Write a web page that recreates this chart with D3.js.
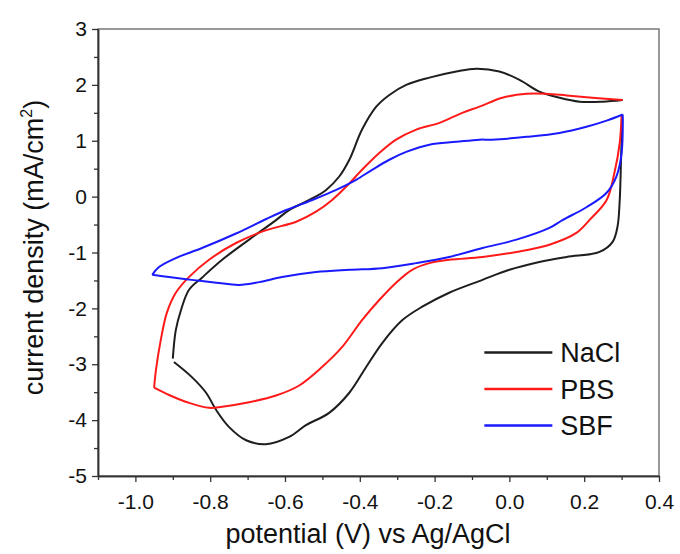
<!DOCTYPE html>
<html>
<head>
<meta charset="utf-8">
<script src="https://cdn.jsdelivr.net/npm/d3@7"></script>
<style>
  body { margin: 0; background: #fff; }
  text { font-family: Arial, "Liberation Sans", sans-serif; fill: #111; }
</style>
</head>
<body>
<div id="chart"></div>
<script>
// Data: [potential (V), current density (mA/cm2)]
const naclCathodic = [[0.302,1.40],[0.299,0.80],[0.297,0.30],[0.295,-0.06],[0.289,-0.54],[0.276,-0.81],[0.241,-0.99],[0.153,-1.08],[0.080,-1.17],[0.000,-1.31],[-0.072,-1.49],[-0.161,-1.72],[-0.233,-1.97],[-0.286,-2.21],[-0.340,-2.62],[-0.383,-3.05],[-0.428,-3.51],[-0.482,-3.87],[-0.544,-4.09],[-0.589,-4.30],[-0.651,-4.43],[-0.704,-4.36],[-0.750,-4.12],[-0.784,-3.82],[-0.811,-3.51],[-0.849,-3.23],[-0.897,-2.96]];
const naclAnodic = [[-0.900,-2.90],[-0.892,-2.39],[-0.878,-2.03],[-0.857,-1.67],[-0.822,-1.45],[-0.768,-1.13],[-0.696,-0.77],[-0.624,-0.42],[-0.589,-0.24],[-0.535,-0.06],[-0.490,0.12],[-0.455,0.36],[-0.428,0.66],[-0.394,1.20],[-0.356,1.61],[-0.321,1.82],[-0.276,2.00],[-0.214,2.13],[-0.142,2.24],[-0.088,2.29],[-0.027,2.24],[0.027,2.09],[0.080,1.88],[0.134,1.77],[0.187,1.70],[0.249,1.70],[0.303,1.73]];
const pbsAnodic = [[-0.950,-3.42],[-0.945,-3.10],[-0.932,-2.56],[-0.916,-2.08],[-0.892,-1.72],[-0.857,-1.44],[-0.803,-1.13],[-0.731,-0.83],[-0.650,-0.60],[-0.570,-0.45],[-0.517,-0.27],[-0.474,-0.06],[-0.436,0.18],[-0.394,0.48],[-0.348,0.78],[-0.303,1.02],[-0.249,1.20],[-0.187,1.32],[-0.126,1.50],[-0.080,1.61],[-0.019,1.77],[0.046,1.84],[0.099,1.84],[0.153,1.81],[0.222,1.77],[0.303,1.73]];
const pbsCathodic = [[0.300,1.47],[0.295,0.96],[0.281,0.43],[0.260,-0.06],[0.214,-0.42],[0.179,-0.65],[0.107,-0.86],[0.019,-0.99],[-0.072,-1.08],[-0.161,-1.13],[-0.214,-1.19],[-0.260,-1.31],[-0.303,-1.54],[-0.348,-1.85],[-0.394,-2.21],[-0.447,-2.69],[-0.501,-3.05],[-0.562,-3.38],[-0.624,-3.56],[-0.696,-3.68],[-0.768,-3.76],[-0.803,-3.78],[-0.857,-3.69],[-0.910,-3.55],[-0.950,-3.42]];
const sbfAnodic = [[-0.955,-1.40],[-0.937,-1.26],[-0.892,-1.10],[-0.822,-0.92],[-0.731,-0.66],[-0.650,-0.40],[-0.597,-0.24],[-0.527,-0.06],[-0.463,0.12],[-0.410,0.30],[-0.367,0.48],[-0.321,0.66],[-0.276,0.80],[-0.214,0.93],[-0.142,0.98],[-0.080,1.02],[-0.046,1.02],[0.046,1.07],[0.134,1.14],[0.206,1.25],[0.260,1.36],[0.303,1.47]];
const sbfCathodic = [[0.303,1.47],[0.300,0.78],[0.286,0.36],[0.260,0.07],[0.206,-0.19],[0.142,-0.42],[0.107,-0.56],[0.019,-0.77],[-0.072,-0.92],[-0.161,-1.08],[-0.249,-1.19],[-0.340,-1.28],[-0.428,-1.31],[-0.517,-1.35],[-0.608,-1.44],[-0.669,-1.53],[-0.723,-1.58],[-0.784,-1.54],[-0.849,-1.49],[-0.910,-1.44],[-0.955,-1.40]];

const seriesNames = ["NaCl", "PBS", "SBF"];
const seriesColors = ["#1e1e1e", "#ff1a1a", "#1a1aff"];
const xTicks = [-1.0, -0.8, -0.6, -0.4, -0.2, 0.0, 0.2, 0.4];
const xMinorTicks = [-1.1, -0.9, -0.7, -0.5, -0.3, -0.1, 0.1, 0.3];
const yTicks = [-5, -4, -3, -2, -1, 0, 1, 2, 3];
const yMinorTicks = [-4.5, -3.5, -2.5, -1.5, -0.5, 0.5, 1.5, 2.5];

// Chart dimensions
const margin = { top: 29, right: 21, bottom: 78, left: 98 };
const width = 680 - margin.left - margin.right;
const height = 554 - margin.top - margin.bottom;

const x = d3.scaleLinear().domain([-1.1, 0.4]).range([0, width]);
const y = d3.scaleLinear().domain([-5, 3]).range([height, 0]);

const svg = d3.select("#chart").append("svg")
    .attr("width", 680)
    .attr("height", 554)
  .append("g")
    .attr("transform", `translate(${margin.left},${margin.top})`);

// Frame (top and right sides are lighter)
svg.append("rect")
    .attr("width", width)
    .attr("height", height)
    .attr("fill", "none")
    .attr("stroke", "#777")
    .attr("stroke-width", 1.5);

const fmt = d => d3.format(".1f")(d).replace("\u2212", "-");

// Axes
svg.append("g")
    .attr("transform", `translate(0,${height})`)
    .call(d3.axisBottom(x).tickValues(xTicks).tickFormat(fmt)
        .tickSize(6).tickSizeOuter(0).tickPadding(12));
svg.append("g")
    .attr("transform", `translate(0,${height})`)
    .call(d3.axisBottom(x).tickValues(xMinorTicks).tickFormat("")
        .tickSize(4).tickSizeOuter(0));

svg.append("g")
    .call(d3.axisLeft(y).tickValues(yTicks).tickFormat(d => String(d).replace("\u2212", "-"))
        .tickSize(6).tickSizeOuter(0).tickPadding(5));
svg.append("g")
    .call(d3.axisLeft(y).tickValues(yMinorTicks).tickFormat("")
        .tickSize(4).tickSizeOuter(0));

svg.selectAll(".domain").attr("stroke", "#333").attr("stroke-width", 1.5);
svg.selectAll(".tick line").attr("stroke", "#333").attr("stroke-width", 1.3);
svg.selectAll(".tick text")
    .attr("font-size", 21)
    .attr("font-family", "Arial, 'Liberation Sans', sans-serif")
    .attr("fill", "#111");

// Axis titles
svg.append("text")
    .attr("x", 270)
    .attr("y", height + 67)
    .attr("text-anchor", "middle")
    .attr("font-size", 27)
    .text("potential (V) vs Ag/AgCl");

const yTitle = svg.append("text")
    .attr("transform", `translate(${-55},${height / 2 - 5}) rotate(-90)`)
    .attr("text-anchor", "middle")
    .attr("font-size", 27);
yTitle.append("tspan").text("current density (mA/cm");
yTitle.append("tspan").attr("font-size", 16).attr("dy", -11).text("2");
yTitle.append("tspan").attr("dy", 11).text(")");

// Curves
const line = d3.line()
    .x(d => x(d[0]))
    .y(d => y(d[1]))
    .curve(d3.curveCatmullRom.alpha(0.5));

const branches = [
    [naclCathodic, 0], [naclAnodic, 0],
    [pbsAnodic, 1], [pbsCathodic, 1],
    [sbfAnodic, 2], [sbfCathodic, 2]
];
branches.forEach(([data, i]) => {
    svg.append("path")
        .datum(data)
        .attr("fill", "none")
        .attr("stroke", seriesColors[i])
        .attr("stroke-width", 2)
        .attr("stroke-linejoin", "round")
        .attr("d", line);
});

// Legend
const legend = svg.append("g")
    .attr("transform", `translate(${x(-0.067)},${y(-2.79)})`);
seriesNames.forEach((name, i) => {
    const g = legend.append("g").attr("transform", `translate(0,${i * 36.5})`);
    g.append("line")
        .attr("x1", 0).attr("x2", 68)
        .attr("stroke", seriesColors[i])
        .attr("stroke-width", 2.5);
    g.append("text")
        .attr("x", 76)
        .attr("dy", "0.36em")
        .attr("font-size", 27)
        .text(name);
});
</script>
</body>
</html>
